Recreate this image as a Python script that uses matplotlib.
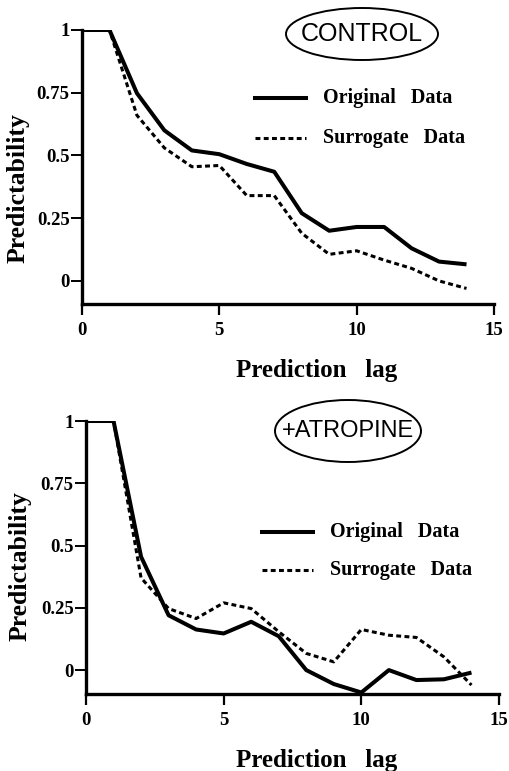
import matplotlib
matplotlib.use("Agg")
import matplotlib.pyplot as plt
from matplotlib.patches import Ellipse

lags = [0, 1, 2, 3, 4, 5, 6, 7, 8, 9, 10, 11, 12, 13, 14]

control_original = [1.0, 1.0, 0.748, 0.60, 0.52, 0.505, 0.466, 0.435, 0.27, 0.20, 0.215, 0.215, 0.13, 0.077, 0.066]
control_surrogate = [1.0, 1.0, 0.66, 0.53, 0.455, 0.46, 0.34, 0.34, 0.19, 0.106, 0.12, 0.083, 0.05, 0.0, -0.03]

atropine_original = [1.0, 1.0, 0.455, 0.22, 0.163, 0.147, 0.194, 0.136, 0.0, -0.056, -0.09, 0.0, -0.04, -0.037, -0.01]
atropine_surrogate = [1.0, 1.0, 0.37, 0.247, 0.207, 0.27, 0.247, 0.154, 0.067, 0.033, 0.163, 0.14, 0.131, 0.053, -0.06]

xticks = [0, 5, 10, 15]
xticklabels = ["0", "5", "10", "15"]
yticks = [0, 0.25, 0.5, 0.75, 1]
yticklabels = ["0", "0.25", "0.5", "0.75", "1"]

panel_titles = ["CONTROL", "+ATROPINE"]
legend_labels = ["Original   Data", "Surrogate   Data"]
xlabel = "Prediction   lag"
ylabel = "Predictability"

W, H = 509, 771
fig = plt.figure(figsize=(W / 100, H / 100), dpi=100)

serif = "Liberation Serif"
sans = "Liberation Sans"

def px(x0, y0, x1, y1):
    return [x0 / W, 1 - y1 / H, (x1 - x0) / W, (y1 - y0) / H]

panels = [
    dict(rect=px(82, 30, 494, 304), ylim=(-0.092, 1.0), orig=control_original, surr=control_surrogate,
         title=panel_titles[0], ell=(362, 34, 152, 52), tfs=18,
         leg=(255, 98, 138), xlab_y=370, ylab=(18, 188)),
    dict(rect=px(86, 421, 499, 694), ylim=(-0.096, 1.0), orig=atropine_original, surr=atropine_surrogate,
         title=panel_titles[1], ell=(348, 431, 146, 62), tfs=17,
         leg=(262, 532, 570), xlab_y=760, ylab=(20, 566)),
]

for p in panels:
    ax = fig.add_axes(p["rect"])
    ax.plot(lags, p["orig"], color="black", lw=2.9, solid_joinstyle="round", solid_capstyle="butt")
    ax.plot(lags, p["surr"], color="black", lw=2.2, linestyle=(0, (1.6, 1.1)))
    ax.set_xlim(0, 15)
    ax.set_ylim(*p["ylim"])
    for s in ["top", "right"]:
        ax.spines[s].set_visible(False)
    for s in ["left", "bottom"]:
        ax.spines[s].set_linewidth(2.4)
    ax.set_xticks(xticks)
    ax.set_xticklabels(xticklabels, fontfamily=serif, fontweight="bold", fontsize=13.5)
    ax.set_yticks(yticks)
    ax.set_yticklabels(yticklabels, fontfamily=serif, fontweight="bold", fontsize=13.5)
    ax.tick_params(axis="x", direction="out", length=8, width=1.6, pad=5)
    ax.tick_params(axis="y", direction="out", length=8, width=1.4, pad=1)
    ax.set_facecolor("none")

    lxp, lyp = p["ylab"]
    fig.text(lxp / W, 1 - lyp / H, ylabel, rotation=90,
             ha="center", va="center", fontfamily=serif, fontweight="bold", fontsize=18.5)
    fig.text(317 / W, 1 - p["xlab_y"] / H, xlabel, ha="center", va="center",
             fontfamily=serif, fontweight="bold", fontsize=18)

    ex, ey, ew, eh = p["ell"]
    e = Ellipse((ex / W, 1 - ey / H), ew / W, eh / H, transform=fig.transFigure,
                facecolor="none", edgecolor="black", lw=1.4)
    fig.add_artist(e)
    fig.text(ex / W, 1 - ey / H, p["title"], ha="center", va="center",
             fontfamily=sans, fontsize=p["tfs"])

    lx, ly1, ly2 = p["leg"]
    fig.add_artist(plt.Line2D([lx / W, (lx + 51) / W], [1 - ly1 / H, 1 - ly1 / H],
                              transform=fig.transFigure, color="black", lw=2.9))
    fig.add_artist(plt.Line2D([lx / W, (lx + 51) / W], [1 - ly2 / H, 1 - ly2 / H],
                              transform=fig.transFigure, color="black", lw=2.2,
                              linestyle=(0, (1.6, 1.1))))
    fig.text((lx + 68) / W, 1 - ly1 / H, legend_labels[0], ha="left", va="center",
             fontfamily=serif, fontweight="bold", fontsize=14.5)
    fig.text((lx + 68) / W, 1 - ly2 / H, legend_labels[1], ha="left", va="center",
             fontfamily=serif, fontweight="bold", fontsize=14.5)

fig.savefig("out.png", dpi=100, facecolor="white")
